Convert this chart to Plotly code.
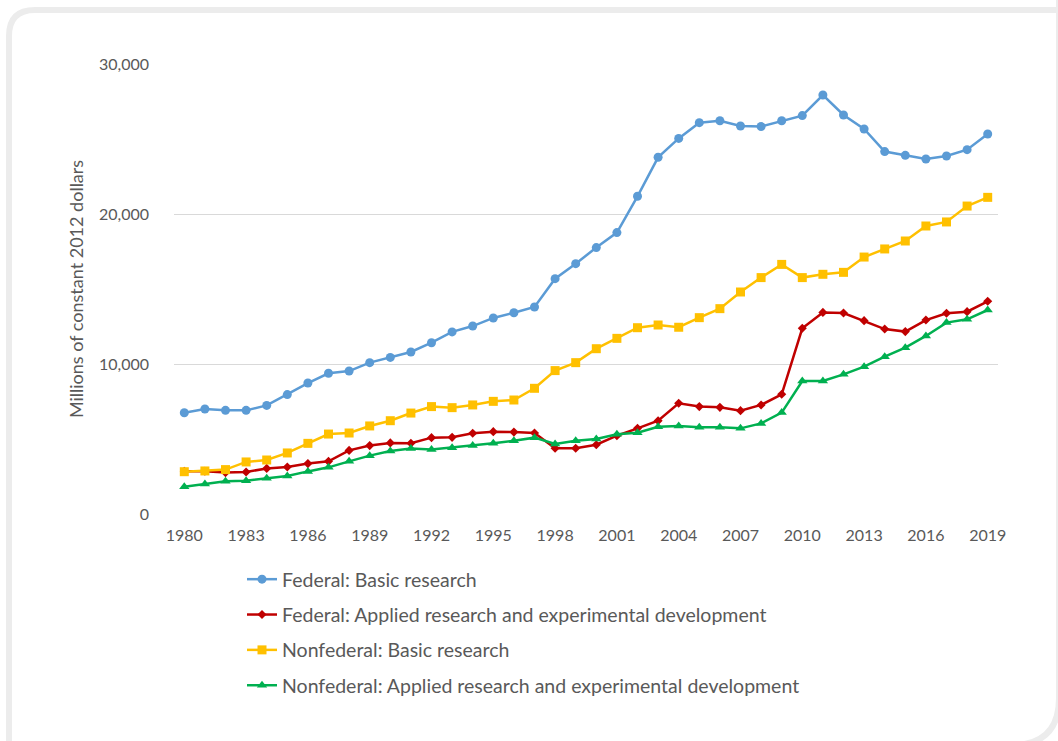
import plotly.graph_objects as go

# R&D spending, millions of constant 2012 dollars
years = list(range(1980, 2020))

federal_basic = [6750, 7000, 6910, 6910, 7240, 7960, 8730, 9380, 9530, 10090,
                 10440, 10800, 11420, 12140, 12530, 13070, 13420, 13800, 15690, 16690,
                 17760, 18760, 21180, 23780, 25040, 26090, 26220, 25870, 25830, 26220,
                 26560, 27930, 26600, 25670, 24160, 23910, 23670, 23870, 24290, 25330]

federal_applied = [2850, 2850, 2760, 2800, 3040, 3130, 3360, 3510, 4240, 4560,
                   4740, 4720, 5090, 5110, 5380, 5490, 5460, 5400, 4380, 4380,
                   4620, 5220, 5710, 6220, 7380, 7160, 7110, 6890, 7270, 7980,
                   12380, 13440, 13400, 12890, 12330, 12160, 12930, 13380, 13490, 14180]

nonfederal_basic = [2820, 2870, 2960, 3470, 3600, 4070, 4710, 5330, 5400, 5870,
                    6220, 6730, 7160, 7090, 7270, 7510, 7600, 8380, 9560, 10090,
                    11020, 11710, 12420, 12600, 12450, 13090, 13690, 14800, 15760, 16640,
                    15760, 15980, 16110, 17130, 17670, 18200, 19200, 19470, 20530, 21110]

nonfederal_applied = [1820, 2000, 2180, 2220, 2380, 2530, 2840, 3110, 3510, 3890,
                      4200, 4360, 4300, 4420, 4560, 4710, 4890, 5090, 4670, 4890,
                      5000, 5310, 5420, 5820, 5870, 5780, 5780, 5710, 6040, 6760,
                      8870, 8870, 9310, 9820, 10490, 11090, 11870, 12760, 12980, 13600]

series_names = [
    "Federal: Basic research",
    "Federal: Applied research and experimental development",
    "Nonfederal: Basic research",
    "Nonfederal: Applied research and experimental development",
]

x_ticks = list(range(1980, 2020, 3))
y_ticks = [0, 10000, 20000, 30000]

W, H = 1058, 741
ML, MR, MT, MB = 174, 60, 64, 227
PW, PH = W - ML - MR, H - MT - MB

FONT = "Lato"
TEXT = "#595959"


def px(x):
    return (x - ML) / PW


def py(y):
    return (H - MB - y) / PH


styles = [
    dict(color="#5B9BD5", symbol="circle", size=9),
    dict(color="#C00000", symbol="diamond", size=7),
    dict(color="#FFC000", symbol="square", size=9),
    dict(color="#00B050", symbol="triangle-up", size=9),
]
data = [federal_basic, federal_applied, nonfederal_basic, nonfederal_applied]

fig = go.Figure()
for i, (name, vals, st) in enumerate(zip(series_names, data, styles)):
    fig.add_trace(go.Scatter(
        x=years, y=vals, name=name, mode="lines+markers",
        legendgroup=f"g{i}",
        line=dict(color=st["color"], width=2.5),
        marker=dict(color=st["color"], symbol=st["symbol"], size=st["size"],
                    line=dict(width=0)),
    ))

# rounded card outline behind the chart
r1 = 26
left, top = 9, 10
p1 = (f"M {px(left)},{py(760)} L {px(left)},{py(top + r1)} "
      f"Q {px(left)},{py(top)} {px(left + r1)},{py(top)} L {px(1075)},{py(top)}")
r2 = 47
right, bottom = 1059, 745
p2 = (f"M {px(right)},{py(0)} L {px(right)},{py(bottom - r2)} "
      f"Q {px(right)},{py(bottom)} {px(right - r2)},{py(bottom)} L {px(0)},{py(bottom)}")
for p in (p1, p2):
    fig.add_shape(type="path", path=p, xref="paper", yref="paper",
                  line=dict(color="#ececec", width=6), layer="below")

fig.update_layout(
    width=W, height=H,
    margin=dict(l=ML, r=MR, t=MT, b=MB, pad=0),
    paper_bgcolor="white", plot_bgcolor="white",
    font=dict(family=FONT, color=TEXT, size=16),
    showlegend=True,
    legend=dict(
        x=px(242), y=py(560), xanchor="left", yanchor="top",
        orientation="v", tracegroupgap=7,
        font=dict(family=FONT, size=19.5, color=TEXT),
        bgcolor="rgba(0,0,0,0)", itemwidth=30,
    ),
    xaxis=dict(
        range=[1979.5, 2019.5], tickmode="array", tickvals=x_ticks,
        ticktext=[str(v) for v in x_ticks], showgrid=False, zeroline=False,
        showline=False, ticks="", ticklabelstandoff=10,
        tickfont=dict(family=FONT, size=16, color=TEXT),
    ),
    yaxis=dict(
        range=[0, 30000], tickmode="array", tickvals=y_ticks,
        ticktext=[f"{v:,}" for v in y_ticks], showgrid=True,
        gridcolor="#d9d9d9", gridwidth=1, zeroline=False, showline=False,
        ticks="", ticklabelstandoff=24,
        tickfont=dict(family=FONT, size=16, color=TEXT),
        title=dict(text="Millions of constant 2012 dollars", standoff=10,
                   font=dict(family=FONT, size=18, color=TEXT)),
    ),
)

fig.write_html("out.html")
